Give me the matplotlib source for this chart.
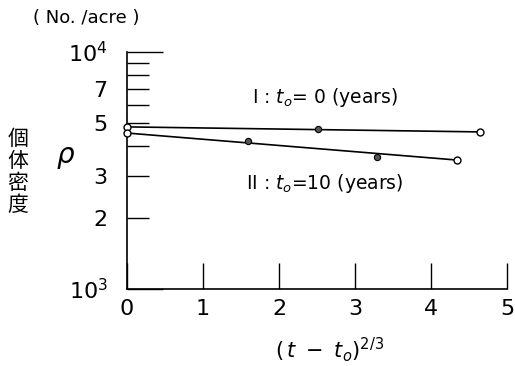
import matplotlib
matplotlib.use("Agg")
import matplotlib.pyplot as plt
from matplotlib.ticker import FixedLocator, FixedFormatter

plt.rcParams['font.family'] = ['DejaVu Sans', 'Noto Sans CJK JP']
plt.rcParams['mathtext.fontset'] = 'dejavusans'

# series I : t0 = 0 years
x1_line = [0, 4.64]
y1_line = [4830, 4600]
x1_pts = [2.51]
y1_pts = [4740]

# series II : t0 = 10 years
x2_line = [0, 4.34]
y2_line = [4550, 3500]
x2_pts = [1.59, 3.29]
y2_pts = [4210, 3610]

y_minor = [2000, 3000, 4000, 5000, 6000, 7000, 8000, 9000]
y_minor_labels = ['2', '3', '', '5', '', '7', '', '']

fig = plt.figure(figsize=(5.15, 3.66), dpi=100)
ax = fig.add_axes([0.2466, 0.2104, 0.7379, 0.6476])

ax.plot(x1_line, y1_line, color='black', lw=1.2, clip_on=False)
ax.plot(x1_line, y1_line, 'o', ms=5, mfc='white', mec='black', mew=1.0, clip_on=False, zorder=3)
ax.plot(x1_pts, y1_pts, 'o', ms=4.5, mfc='#555555', mec='black', mew=0.8, zorder=3)

ax.plot(x2_line, y2_line, color='black', lw=1.2, clip_on=False)
ax.plot(x2_line, y2_line, 'o', ms=5, mfc='white', mec='black', mew=1.0, clip_on=False, zorder=3)
ax.plot(x2_pts, y2_pts, 'o', ms=4.5, mfc='#555555', mec='black', mew=0.8, zorder=3)

ax.set_yscale('log')
ax.set_ylim(1000, 10000)
ax.set_xlim(0, 5)

ax.yaxis.set_major_locator(FixedLocator([1000, 10000]))
ax.yaxis.set_major_formatter(FixedFormatter([r'$10^3$', r'$10^4$']))
ax.yaxis.set_minor_locator(FixedLocator(y_minor))
ax.yaxis.set_minor_formatter(FixedFormatter(y_minor_labels))
ax.tick_params(axis='y', which='major', direction='in', length=26, width=1.0,
               labelsize=16, pad=14)
ax.tick_params(axis='y', which='minor', direction='in', length=16, width=1.0,
               labelsize=16, pad=14)

ax.set_xticks([0, 1, 2, 3, 4, 5])
ax.tick_params(axis='x', direction='in', length=19, width=1.0, labelsize=16, pad=7)

for s in ['top', 'right']:
    ax.spines[s].set_visible(False)
for s in ['left', 'bottom']:
    ax.spines[s].set_linewidth(1.2)

fig.text(0.065, 0.95, '( No. /acre )', fontsize=13, ha='left', va='center')
fig.text(0.035, 0.53, '個\n体\n密\n度', fontsize=15, ha='center', va='center',
         family=['Noto Sans CJK JP'], linespacing=1.0)
fig.text(0.127, 0.57, r'$\rho$', fontsize=20, ha='center', va='center')

ax.text(2.6, 6400, r'I : $t_o$= 0 (years)', fontsize=13.5, ha='center', va='center')
ax.text(2.6, 2780, r'II : $t_o$=10 (years)', fontsize=13.5, ha='center', va='center')

fig.text(0.64, 0.045, r'$(\,t\,\,-\,\,t_o)^{2/3}$', fontsize=15, ha='center', va='center')

fig.savefig('out.png', dpi=100)
